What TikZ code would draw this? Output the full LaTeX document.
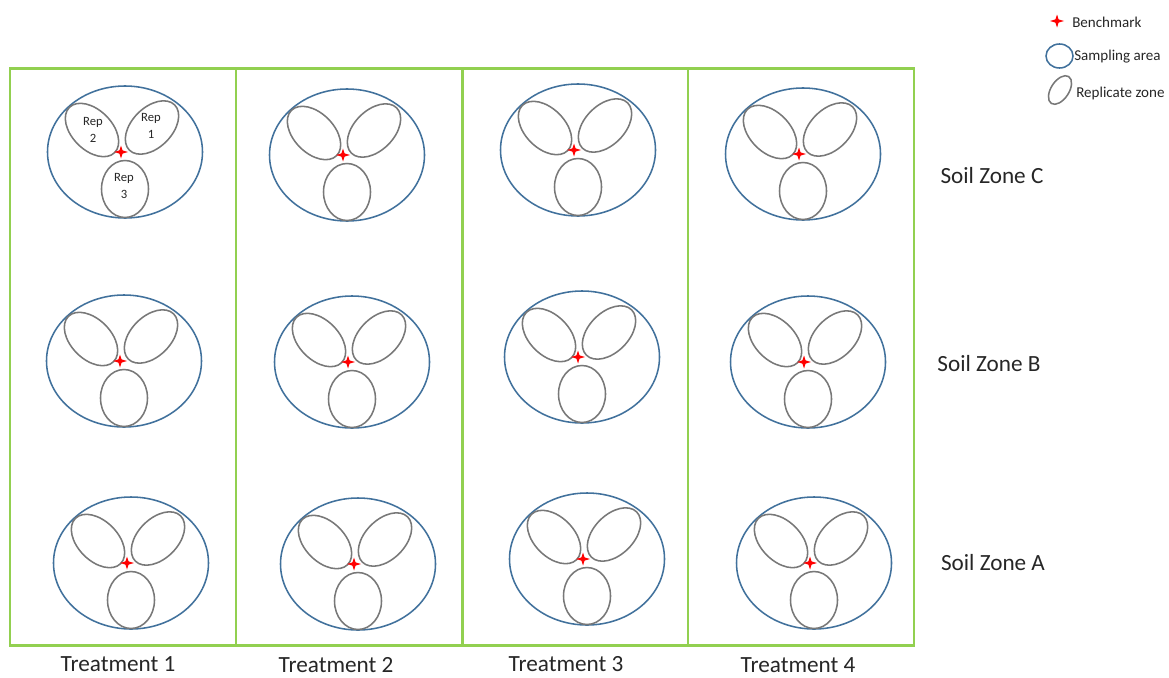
\documentclass[tikz,border=0pt]{standalone}
\usepackage{fontspec}
\setmainfont{Carlito}
\definecolor{framegreen}{RGB}{146,208,80}
\definecolor{areablue}{RGB}{65,113,156}
\definecolor{repgray}{RGB}{120,120,120}
\definecolor{txtgray}{RGB}{38,38,38}
\tikzset{
  frameline/.style={draw=framegreen, line width=1.7pt},
  area/.style={draw=areablue, line width=1.1pt},
  rep/.style={draw=repgray, line width=1.1pt},
  benchmark/.style={fill=red},
  biglabel/.style={font=\fontsize{16.5}{19}\selectfont, text=txtgray, inner sep=0pt},
  replabel/.style={font=\fontsize{9}{11.5}\selectfont, text=txtgray, align=center, inner sep=0pt},
  legendlabel/.style={font=\fontsize{10.7}{12}\selectfont, text=txtgray, anchor=west, inner sep=0pt}
}
\newcommand\benchstarpath{(0,-6.5) -- (1.6,-1.6) -- (7,0) -- (1.6,1.6) -- (0,6.5) -- (-1.6,1.6) -- (-7,0) -- (-1.6,-1.6) -- cycle}
\newcommand\sitegroup[3]{%
  \begin{scope}[shift={(#2,#3)}]
    \coordinate (#1) at (0,0);
    \draw[area] (4,0) ellipse [x radius=77.5, y radius=66];
    \begin{scope}[shift={(-29,-22)}, rotate=-45]
      \draw[rep] (0,0) ellipse [x radius=32, y radius=20];
    \end{scope}
    \begin{scope}[shift={(31,-24.5)}, rotate=45]
      \draw[rep] (0,0) ellipse [x radius=32, y radius=20];
    \end{scope}
    \draw[rep] (4,37) ellipse [x radius=23.5, y radius=28.5];
    \fill[benchmark] \benchstarpath;
  \end{scope}}
\begin{document}
\begin{tikzpicture}[x=0.025cm, y=-0.025cm]
\useasboundingbox (0,0) rectangle (1169,677);
% frame
\draw[frameline] (10,68.5) rectangle (914,645.5);
\foreach \xx in {236,462.5,688} \draw[frameline] (\xx,68.5) -- (\xx,645.5);
% row C
\sitegroup{gC1}{121}{152}
\sitegroup{gC2}{343}{155}
\sitegroup{gC3}{574}{150}
\sitegroup{gC4}{799}{154}
% row B
\sitegroup{gB1}{120}{361}
\sitegroup{gB2}{348}{362}
\sitegroup{gB3}{578}{357}
\sitegroup{gB4}{804}{362}
% row A
\sitegroup{gA1}{127}{563}
\sitegroup{gA2}{354}{564}
\sitegroup{gA3}{583}{559}
\sitegroup{gA4}{810}{563}
% replicate labels
\node[replabel] (rep2) at (93,130) {Rep\\2};
\node[replabel] (rep1) at (151,126) {Rep\\1};
\node[replabel] (rep3) at (124,186) {Rep\\3};
% row labels
\node[biglabel] (zoneC) at (992,176) {Soil Zone C};
\node[biglabel] (zoneB) at (989,364) {Soil Zone B};
\node[biglabel] (zoneA) at (993,563) {Soil Zone A};
% column labels
\node[biglabel] (t1) at (118,664) {Treatment 1};
\node[biglabel] (t2) at (336,665) {Treatment 2};
\node[biglabel] (t3) at (566,664) {Treatment 3};
\node[biglabel] (t4) at (798,665) {Treatment 4};
% legend
\begin{scope}[shift={(1057,21)}]
  \fill[benchmark] \benchstarpath;
\end{scope}
\node[legendlabel] (lgbench) at (1072,22) {Benchmark};
\draw[area] (1059.5,56) ellipse [x radius=13.5, y radius=12];
\node[legendlabel] (lgarea) at (1074,57) {Sampling area};
\begin{scope}[shift={(1060,90)}, rotate=57]
  \draw[rep] (0,0) ellipse [x radius=16, y radius=9];
\end{scope}
\node[legendlabel] (lgrep) at (1076,93) {Replicate zone};
\end{tikzpicture}
\end{document}
